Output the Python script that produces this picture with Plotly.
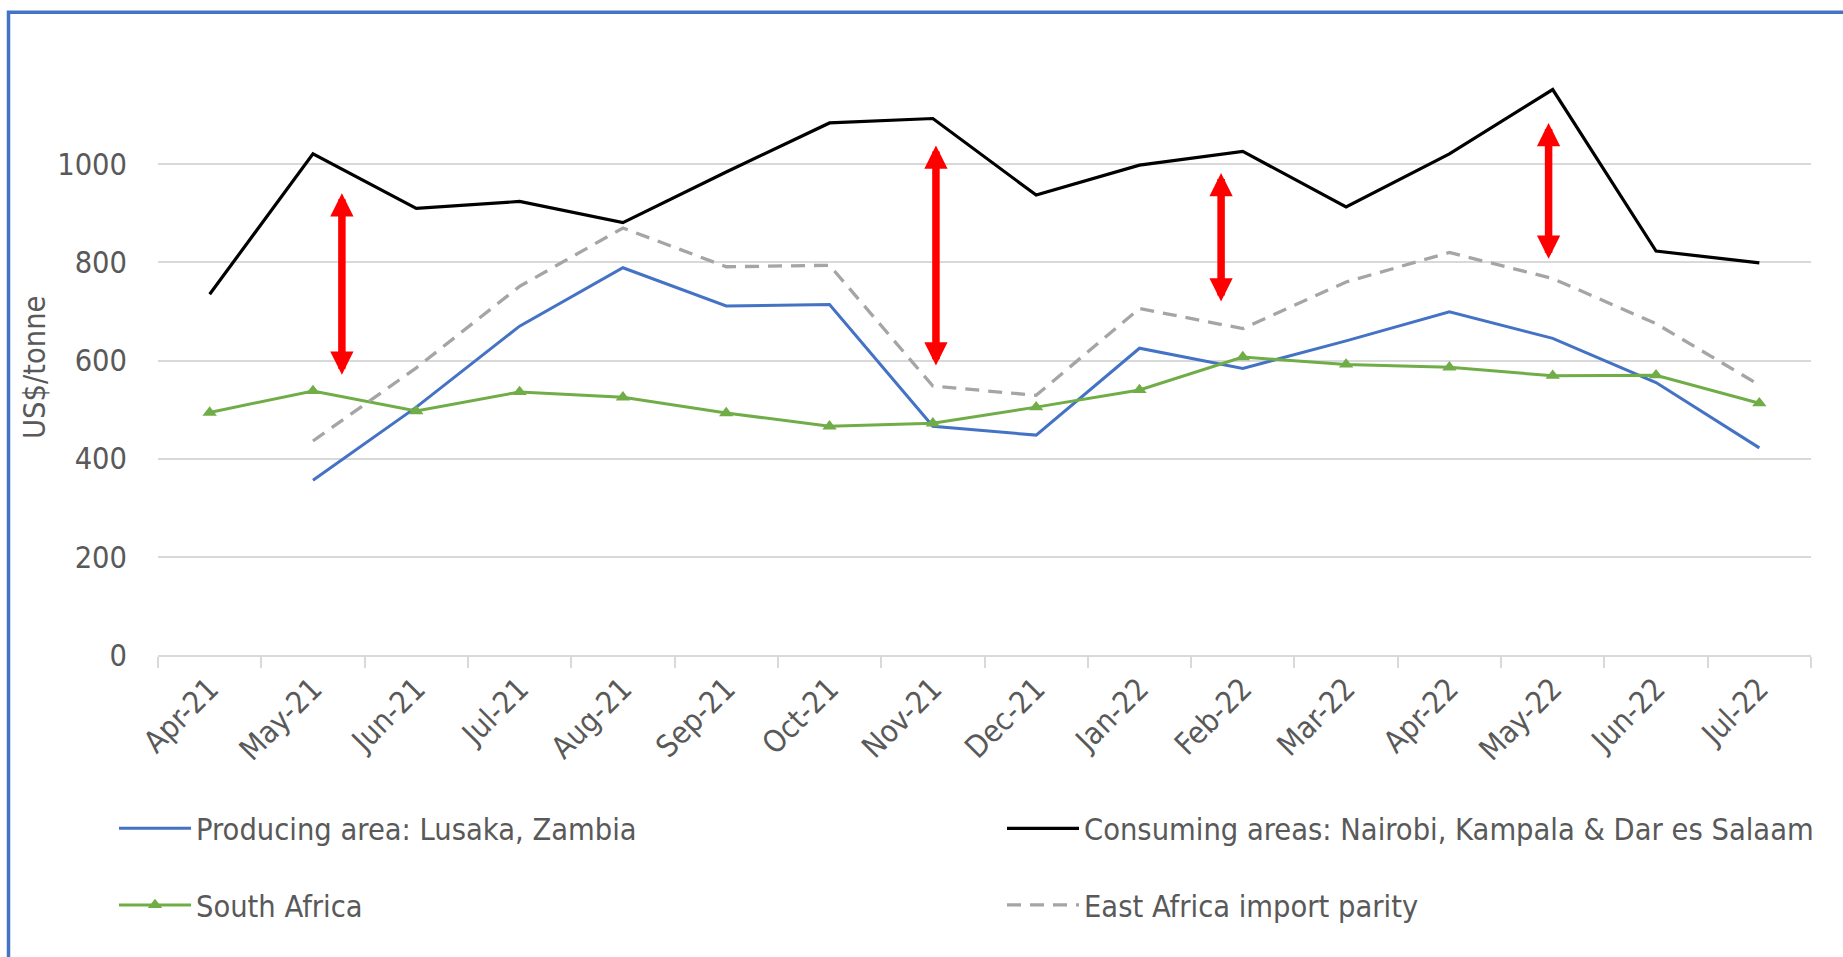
import plotly.graph_objects as go

months = ["Apr-21", "May-21", "Jun-21", "Jul-21", "Aug-21", "Sep-21", "Oct-21", "Nov-21",
          "Dec-21", "Jan-22", "Feb-22", "Mar-22", "Apr-22", "May-22", "Jun-22", "Jul-22"]

producing_lusaka = [None, 356, 505, 670, 789, 711, 714, 466, 448, 625, 584, 640, 699, 645, 555, 422]
consuming_east = [735, 1021, 910, 924, 881, 984, 1084, 1093, 937, 998, 1026, 913, 1021, 1152, 823, 799]
south_africa = [494, 538, 497, 536, 525, 493, 466, 472, 505, 540, 607, 592, 586, 569, 570, 513]
ea_import_parity = [None, 436, 585, 751, 870, 791, 794, 548, 529, 706, 665, 760, 820, 767, 675, 550]

# double-headed red arrows (category position, low value, high value)
arrow_x = [1.28, 7.03, 9.79, 12.96]
arrow_low = [568, 587, 717, 804]
arrow_high = [941, 1038, 982, 1084]

y_ticks = [0, 200, 400, 600, 800, 1000]
y_title = "US$/tonne"

W, H = 1843, 957
ML, MR, MT, MB = 158, 32, 66, 302
PW, PH = W - ML - MR, H - MT - MB

FONT = "Liberation Sans Narrow, Arial Narrow, DejaVu Sans Condensed, Roboto Condensed, sans-serif"
FS = 30.5
TXT = "#595959"

fig = go.Figure()
fig.add_trace(go.Scatter(x=months, y=producing_lusaka, mode="lines", name="Producing area: Lusaka, Zambia",
                         line=dict(color="#4472C4", width=3), legend="legend", legendgroup="a"))
fig.add_trace(go.Scatter(x=months, y=consuming_east, mode="lines",
                         name="Consuming areas: Nairobi, Kampala & Dar es Salaam",
                         line=dict(color="#000000", width=3.2), legend="legend2", legendgroup="b"))
fig.add_trace(go.Scatter(x=months, y=south_africa, mode="lines+markers", name="South Africa",
                         line=dict(color="#70AD47", width=3),
                         marker=dict(symbol="triangle-up", size=12.5, color="#70AD47"),
                         legend="legend", legendgroup="c"))
fig.add_trace(go.Scatter(x=months, y=ea_import_parity, mode="lines", name="East Africa import parity",
                         line=dict(color="#A5A5A5", width=3.3, dash="14px,9px"),
                         legend="legend2", legendgroup="d"))

for xa, lo, hi in zip(arrow_x, arrow_low, arrow_high):
    fig.add_annotation(x=xa, y=hi, ax=xa, ay=lo, xref="x", yref="y", axref="x", ayref="y",
                       text="", showarrow=True, arrowside="end+start",
                       arrowhead=2, startarrowhead=2, arrowwidth=7.5,
                       arrowsize=0.62, startarrowsize=0.62, arrowcolor="#FF0000",
                       standoff=0, startstandoff=0)

def px_x(p):
    return (p - ML) / PW

def px_y(p):
    return (H - MB - p) / PH

# y-axis title
fig.add_annotation(text=y_title, xref="paper", yref="paper", x=px_x(34), y=px_y(368),
                   xanchor="center", yanchor="middle", textangle=-90, showarrow=False,
                   font=dict(family=FONT, size=FS, color=TXT))

# outer blue frame
fig.add_shape(type="rect", xref="paper", yref="paper",
              x0=px_x(8.5), x1=px_x(W + 20), y0=px_y(12.3), y1=px_y(H + 20),
              line=dict(color="#4472C4", width=3.5), fillcolor="rgba(0,0,0,0)", layer="above")

fig.update_layout(
    width=W, height=H,
    margin=dict(l=ML, r=MR, t=MT, b=MB, autoexpand=False),
    paper_bgcolor="white", plot_bgcolor="white",
    font=dict(family=FONT, size=FS, color=TXT),
    showlegend=True,
    legend=dict(x=px_x(114), y=px_y(802), xanchor="left", yanchor="top", orientation="v",
                font=dict(family=FONT, size=FS, color=TXT), tracegroupgap=34,
                bgcolor="rgba(0,0,0,0)", itemwidth=72),
    legend2=dict(x=px_x(1002), y=px_y(802), xanchor="left", yanchor="top", orientation="v",
                 font=dict(family=FONT, size=FS, color=TXT), tracegroupgap=34,
                 bgcolor="rgba(0,0,0,0)", itemwidth=72),
)
fig.update_xaxes(type="category", range=[-0.5, 15.5], showline=True, linecolor="#D9D9D9", linewidth=1.5,
                 ticks="outside", tickson="boundaries", ticklen=11, tickcolor="#D9D9D9", tickwidth=1.5,
                 tickangle=-45, showgrid=False, tickfont=dict(family=FONT, size=FS, color=TXT),
                 ticklabelstandoff=2)
fig.update_yaxes(range=[0, 1200], tickvals=y_ticks, showgrid=True, gridcolor="#D9D9D9", gridwidth=1.5,
                 zeroline=False, showline=False, tickfont=dict(family=FONT, size=FS, color=TXT),
                 ticklabelstandoff=30)

fig.write_html("out.html", config={"displayModeBar": False},
               post_script="document.body.style.margin='0';document.body.style.overflow='hidden';")
